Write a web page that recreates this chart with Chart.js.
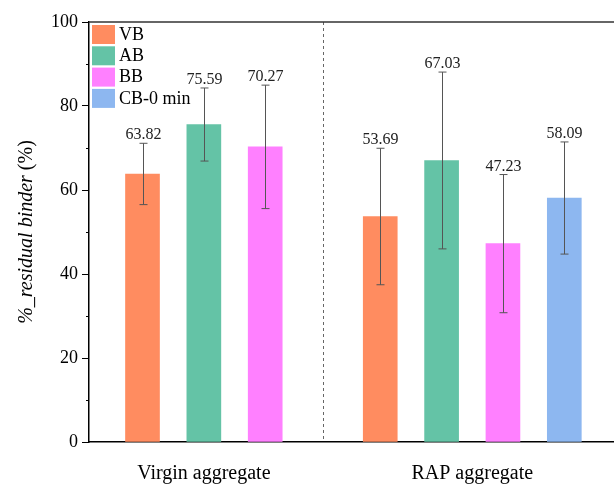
<!DOCTYPE html>
<html>
<head>
  <script src="https://cdn.jsdelivr.net/npm/chart.js@4"></script>
  <style>
    html, body { margin: 0; padding: 0; background: #fff; }
    #wrap { width: 614px; height: 486px; position: relative; }
  </style>
</head>
<body>
  <div id="wrap"><canvas id="myChart"></canvas></div>
  <script type="text/javascript">
    // data
    var groups = ['Virgin aggregate', 'RAP aggregate'];
    var series = ['VB', 'AB', 'BB', 'CB-0 min'];
    var colors = ['#ff8c60', '#64c3a6', '#ff80ff', '#8db7f0'];
    var virginMeans = [63.82, 75.59, 70.27];
    var virginErr = [7.3, 8.7, 14.7];
    var rapMeans = [53.69, 67.03, 47.23, 58.09];
    var rapErr = [16.25, 21.05, 16.45, 13.35];

    var groupStart = [0, 3.875];   // x slot where each group starts
    var FONT = "'Liberation Serif', 'Times New Roman', serif";

    var datasets = series.map(function(name, i) {
      var pts = [];
      if (i < virginMeans.length) pts.push({ x: groupStart[0] + i, y: virginMeans[i], err: virginErr[i] });
      if (i < rapMeans.length) pts.push({ x: groupStart[1] + i, y: rapMeans[i], err: rapErr[i] });
      return {
        label: name,
        data: pts,
        backgroundColor: colors[i],
        borderWidth: 0,
        barThickness: 34,
        grouped: false
      };
    });

    // error bars, value labels, legend, extra frame bits
    var extras = {
      id: 'extras',
      afterDatasetsDraw: function(chart) {
        var ctx = chart.ctx;
        var xs = chart.scales.x, ys = chart.scales.y;
        var area = chart.chartArea;
        ctx.save();

        // separator
        ctx.strokeStyle = '#666';
        ctx.lineWidth = 1;
        ctx.setLineDash([3, 3]);
        var sx = Math.round(xs.getPixelForValue(2.9375)) + 0.5;
        ctx.beginPath();
        ctx.moveTo(sx, area.top);
        ctx.lineTo(sx, area.bottom);
        ctx.stroke();
        ctx.setLineDash([]);

        // error bars + labels
        chart.data.datasets.forEach(function(ds) {
          ds.data.forEach(function(p) {
            var x = Math.round(xs.getPixelForValue(p.x)) + 0.5;
            var yt = ys.getPixelForValue(p.y + p.err);
            var yb = ys.getPixelForValue(p.y - p.err);
            ctx.strokeStyle = '#555';
            ctx.lineWidth = 1;
            ctx.beginPath();
            ctx.moveTo(x, yt); ctx.lineTo(x, yb);
            ctx.moveTo(x - 4, yt); ctx.lineTo(x + 4, yt);
            ctx.moveTo(x - 4, yb); ctx.lineTo(x + 4, yb);
            ctx.stroke();
            ctx.fillStyle = '#222';
            ctx.font = '16px ' + FONT;
            ctx.textAlign = 'center';
            ctx.textBaseline = 'alphabetic';
            ctx.fillText(p.y.toFixed(2), x, yt - 4);
          });
        });

        // minor y ticks
        ctx.strokeStyle = '#000';
        ctx.lineWidth = 1;
        for (var v = 10; v < 100; v += 20) {
          var y = Math.round(ys.getPixelForValue(v)) + 0.5;
          ctx.beginPath();
          ctx.moveTo(area.left - 3, y); ctx.lineTo(area.left, y);
          ctx.stroke();
        }

        // top frame
        ctx.strokeStyle = '#333';
        ctx.lineWidth = 1.5;
        ctx.beginPath();
        ctx.moveTo(area.left, area.top); ctx.lineTo(area.right, area.top);
        ctx.stroke();

        // group labels
        ctx.fillStyle = '#000';
        ctx.font = '20px ' + FONT;
        ctx.textAlign = 'center';
        ctx.textBaseline = 'alphabetic';
        ctx.fillText(groups[0], xs.getPixelForValue(groupStart[0] + 1), 479);
        ctx.fillText(groups[1], xs.getPixelForValue(groupStart[1] + 1.5), 479);

        // legend
        ctx.font = '18px ' + FONT;
        ctx.textAlign = 'left';
        ctx.textBaseline = 'middle';
        series.forEach(function(name, i) {
          var ly = area.top + 3 + i * 21.3;
          ctx.fillStyle = colors[i];
          ctx.fillRect(area.left + 3, ly, 23, 19);
          ctx.fillStyle = '#000';
          ctx.fillText(name, area.left + 30, ly + 10);
        });

        // y title: italic part + upright part
        ctx.save();
        ctx.translate(27, (area.top + area.bottom) / 2);
        ctx.rotate(-Math.PI / 2);
        ctx.textBaseline = 'middle';
        ctx.fillStyle = '#000';
        var t1 = '%_residual binder ', t2 = '(%)';
        ctx.font = 'italic 20px ' + FONT;
        var w1 = ctx.measureText(t1).width;
        ctx.font = '20px ' + FONT;
        var w2 = ctx.measureText(t2).width;
        var start = -(w1 + w2) / 2;
        ctx.textAlign = 'left';
        ctx.font = 'italic 20px ' + FONT;
        ctx.fillText(t1, start, 0);
        ctx.font = '20px ' + FONT;
        ctx.fillText(t2, start + w1, 0);
        ctx.restore();

        ctx.restore();
      }
    };

    var ctx = document.getElementById('myChart').getContext('2d');
    var chart = new Chart(ctx, {
      type: 'bar',
      data: { datasets: datasets },
      options: {
        responsive: true,
        maintainAspectRatio: false,
        animation: false,
        layout: { padding: { top: 22, right: 0, left: 0, bottom: 0 } },
        plugins: {
          legend: { display: false },
          tooltip: { enabled: false }
        },
        scales: {
          x: {
            type: 'linear',
            min: -0.872,
            max: 7.685,
            offset: false,
            ticks: { display: false },
            grid: { display: false },
            border: { color: '#000', width: 1.5 },
            afterFit: function(s) { s.height = 44; }
          },
          y: {
            min: 0,
            max: 100,
            ticks: {
              stepSize: 20,
              color: '#000',
              padding: 4,
              font: { family: FONT, size: 18 }
            },
            grid: { drawOnChartArea: false, drawTicks: true, tickLength: 7, color: '#000' },
            border: { color: '#000', width: 1.5 },
            afterFit: function(s) { s.width = 89; }
          }
        }
      },
      plugins: [extras]
    });
  </script>
</body>
</html>
